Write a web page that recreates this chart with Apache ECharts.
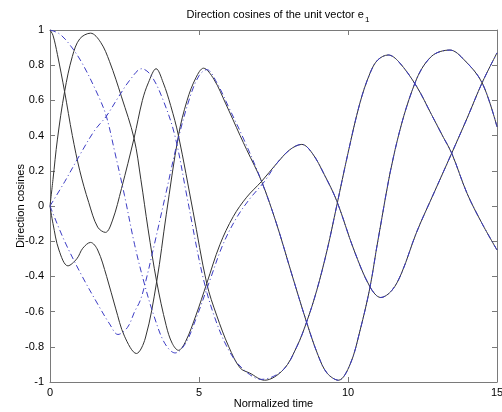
<!DOCTYPE html>
<html><head><meta charset="utf-8">
<script src="https://cdn.jsdelivr.net/npm/echarts@6/dist/echarts.min.js"></script>
<style>html,body{margin:0;padding:0;background:#fff}#c{width:502px;height:412px}</style>
</head><body><div id="c"></div>
<script>
// Black solid curves (method 1)
const aT = [0,0.1,0.25,0.49,0.75,1.0,1.3,1.6,1.86,2.1,2.4,2.82,3.1,3.3,3.56,3.8,4.05,4.31,4.8,5.26,5.59,6.0,6.38,6.71,7.2,7.83,8.28,8.61,8.95,9.3,9.62,10.0,10.4,10.74,11.0,11.35,11.7,12.3,12.8,13.2,13.48,14.0,14.5,15.0];
const aV = [1.0,0.97,0.86,0.65,0.4,0.2,0.02,-0.12,-0.15,-0.08,0.1,0.385,0.6,0.7,0.78,0.7,0.57,0.40,-0.03,-0.44,-0.62,-0.8,-0.92,-0.95,-0.99,-0.93,-0.8,-0.66,-0.48,-0.25,0.0,0.3,0.585,0.755,0.83,0.858,0.82,0.68,0.52,0.39,0.30,0.07,-0.1,-0.25];
const bT = [0,0.1,0.25,0.49,0.75,1.0,1.36,1.7,2.0,2.4,2.82,3.05,3.29,3.58,3.9,4.1,4.31,4.55,4.9,5.26,5.7,6.15,6.6,7.1,7.6,8.05,8.45,8.8,9.2,9.62,10.2,10.74,11.1,11.47,11.8,12.3,12.9,13.48,14.0,14.5,15.0];
const bV = [0.0,0.15,0.38,0.65,0.85,0.95,0.982,0.93,0.82,0.62,0.385,0.15,-0.13,-0.43,-0.68,-0.78,-0.82,-0.77,-0.62,-0.44,-0.22,-0.06,0.05,0.14,0.24,0.32,0.35,0.3,0.18,0.03,-0.25,-0.46,-0.52,-0.48,-0.38,-0.15,0.08,0.30,0.5,0.7,0.87];
const cT = [0,0.1,0.3,0.6,0.9,1.1,1.36,1.6,1.9,2.2,2.5,2.9,3.2,3.58,3.9,4.31,4.6,4.9,5.15,5.5,5.9,6.38,6.6,7.1,7.6,8.1,8.61,9.0,9.3,9.68,10.07,10.4,10.74,11.0,11.58,12.25,12.8,13.42,13.9,14.5,15.0];
const cV = [0.0,-0.1,-0.25,-0.34,-0.3,-0.24,-0.207,-0.25,-0.4,-0.58,-0.74,-0.838,-0.75,-0.43,-0.05,0.40,0.6,0.73,0.783,0.72,0.58,0.40,0.32,0.14,-0.1,-0.38,-0.66,-0.85,-0.95,-0.99,-0.9,-0.71,-0.46,-0.2,0.32,0.70,0.85,0.886,0.83,0.70,0.45];
// Blue dash-dot curves (method 2)
const dT = [0,0.3,0.6,1.05,1.61,1.89,2.17,2.5,2.84,3.18,3.5,3.85,4.2,4.55,4.9,5.37,5.8,6.25,6.7,7.2,7.6,8.05,8.45,8.8,9.2,9.62,10.2,10.74,11.1,11.47,11.8,12.3,12.9,13.48,14.0,14.5,15.0];
const dV = [1.0,0.98,0.93,0.82,0.63,0.51,0.31,0.06,-0.22,-0.45,-0.63,-0.78,-0.835,-0.78,-0.64,-0.42,-0.22,-0.07,0.04,0.14,0.24,0.32,0.35,0.3,0.18,0.03,-0.25,-0.46,-0.52,-0.48,-0.38,-0.15,0.08,0.30,0.5,0.7,0.87];
const eT = [0,0.5,1.0,1.5,1.89,2.3,2.7,3.08,3.4,3.8,4.19,4.6,5.1,5.5,6.0,6.5,7.1,7.83,8.28,8.61,8.95,9.3,9.62,10.0,10.4,10.74,11.0,11.35,11.7,12.3,12.8,13.2,13.48,14.0,14.5,15.0];
const eV = [0.0,0.14,0.29,0.43,0.51,0.62,0.72,0.78,0.74,0.6,0.40,0.05,-0.38,-0.62,-0.82,-0.93,-0.985,-0.93,-0.8,-0.66,-0.48,-0.25,0.0,0.3,0.585,0.755,0.83,0.858,0.82,0.68,0.52,0.39,0.30,0.07,-0.1,-0.25];
const fT = [0,0.49,1.05,1.61,2.0,2.28,2.6,2.84,3.02,3.18,3.5,3.9,4.3,4.7,5.0,5.26,5.6,6.0,6.5,7.1,7.6,8.1,8.61,9.0,9.3,9.68,10.07,10.4,10.74,11.0,11.58,12.25,12.8,13.42,13.9,14.5,15.0];
const fV = [0.0,-0.2,-0.39,-0.56,-0.67,-0.73,-0.69,-0.6,-0.54,-0.45,-0.22,0.08,0.38,0.62,0.74,0.775,0.7,0.56,0.38,0.14,-0.1,-0.38,-0.66,-0.85,-0.95,-0.99,-0.9,-0.71,-0.46,-0.2,0.32,0.70,0.85,0.886,0.83,0.70,0.45];

const xTicks = [0,5,10,15];
const yTicks = [-1,-0.8,-0.6,-0.4,-0.2,0,0.2,0.4,0.6,0.8,1];

function pts(t,v){return t.map((x,i)=>[x,v[i]]);}
const FONT = 'Liberation Sans';
const black = {color:'#333333', width:1, type:'solid'};
const blue = {color:'#3c3cc4', width:1, type:[6,3,1,3]};
function ser(t,v,ls,z){return {type:'line',data:pts(t,v),smooth:0.35,showSymbol:false,symbol:'none',lineStyle:ls,z:z,animation:false,xAxisIndex:0,yAxisIndex:0};}

const axBase = {
  axisLine:{show:true,onZero:false,lineStyle:{color:'#7a7a7a',width:1}},
  axisTick:{show:true,inside:true,length:5,lineStyle:{color:'#7a7a7a'}},
  splitLine:{show:false}
};
const chart = echarts.init(document.getElementById('c'),null,{renderer:'canvas'});
chart.setOption({
  animation:false,
  backgroundColor:'#fff',
  title:{
    text:'{a|Direction cosines of the unit vector e}{s|1}',
    left:273, top:1, textAlign:'center',
    textStyle:{fontWeight:'normal',rich:{
      a:{fontFamily:FONT,fontSize:11,fontWeight:'normal',color:'#000',verticalAlign:'bottom',lineHeight:14},
      s:{fontFamily:FONT,fontSize:8,fontWeight:'normal',color:'#000',verticalAlign:'bottom',padding:[0,0,-4,1],lineHeight:14}
    }}
  },
  grid:{left:50,right:5,top:30,bottom:30,containLabel:false,outerBoundsMode:'none'},
  xAxis:[
    Object.assign({type:'value',min:0,max:15,interval:5,position:'bottom',
      name:'Normalized time',nameLocation:'middle',nameGap:16,nameMoveOverlap:false,
      nameTextStyle:{fontFamily:FONT,fontSize:11,color:'#000'},
      axisLabel:{fontFamily:FONT,fontSize:11,color:'#000',margin:5,formatter:v=>xTicks.includes(v)?String(v):''}},axBase),
    Object.assign({type:'value',min:0,max:15,interval:5,position:'top',axisLabel:{show:false}},axBase)
  ],
  yAxis:[
    Object.assign({type:'value',min:-1,max:1,interval:0.2,position:'left',
      name:'Direction cosines',nameLocation:'middle',nameGap:24,nameMoveOverlap:false,
      nameTextStyle:{fontFamily:FONT,fontSize:11,color:'#000'},
      axisLabel:{fontFamily:FONT,fontSize:11,color:'#000',margin:6,formatter:v=>{const r=Math.round(v*10)/10;return String(r);}}},axBase),
    Object.assign({type:'value',min:-1,max:1,interval:0.2,position:'right',axisLabel:{show:false}},axBase)
  ],
  series:[
    ser(aT,aV,black,2), ser(bT,bV,black,2), ser(cT,cV,black,2),
    ser(dT,dV,blue,3), ser(eT,eV,blue,3), ser(fT,fV,blue,3)
  ]
});
</script></body></html>
